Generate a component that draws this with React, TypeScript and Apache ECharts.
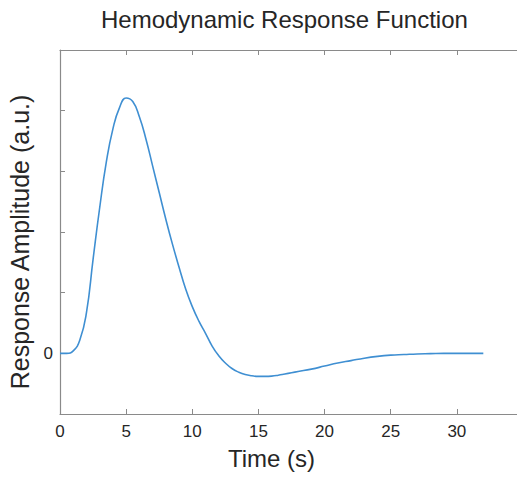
import React, { useEffect, useRef } from "react";
import * as echarts from "echarts";

const titleText = "Hemodynamic Response Function";
const xName = "Time (s)";
const yName = "Response Amplitude (a.u.)";

const times = [
  0, 0.5, 1, 1.5, 2, 2.5, 3, 3.5, 4, 4.5, 5, 5.5, 6, 6.5, 7, 7.5, 8, 8.5, 9, 9.5,
  10, 10.5, 11, 11.5, 12, 12.5, 13, 13.5, 14, 14.5, 15, 15.5, 16, 16.5, 17, 17.5,
  18, 19, 20, 21, 22, 23, 24, 25, 26, 27, 28, 29, 30, 31, 32,
];
const values = [
  0, 0, 0.04, 0.22, 0.67, 1.55, 2.4, 3.15, 3.7, 4.05, 4.21, 4.15, 3.9, 3.53, 3.09, 2.65,
  2.21, 1.8, 1.42, 1.06, 0.77, 0.53, 0.33, 0.12, -0.04, -0.16, -0.25, -0.31, -0.35,
  -0.37, -0.38, -0.38, -0.375, -0.36, -0.34, -0.32, -0.3, -0.26, -0.21, -0.16, -0.12,
  -0.08, -0.05, -0.03, -0.02, -0.01, -0.005, 0, 0, 0, 0,
];

const xTicks = [0, 5, 10, 15, 20, 25, 30];

export default function App() {
  const ref = useRef<HTMLDivElement>(null);
  useEffect(() => {
    if (!ref.current) return;
    const chart = echarts.init(ref.current, undefined, { renderer: "svg" });
    const axisColor = "#8a8a8a";
    const textColor = "#262626";
    const font = "'Liberation Sans', Arial, Helvetica, sans-serif";
    chart.setOption({
      animation: false,
      backgroundColor: "#ffffff",
      textStyle: { fontFamily: font },
      title: {
        text: titleText,
        left: 96,
        top: 2,
        textStyle: { fontFamily: font, fontSize: 24, fontWeight: "normal", color: textColor },
      },
      grid: {
        left: 60,
        top: 50,
        bottom: 63,
        right: -6,
        containLabel: false,
        outerBoundsMode: "none",
      },
      xAxis: [
        {
          type: "value",
          min: 0,
          max: 35,
          interval: 5,
          position: "bottom",
          name: xName,
          nameLocation: "middle",
          nameGap: 32,
          nameMoveOverlap: false,
          nameTextStyle: {
            fontFamily: font,
            fontSize: 24,
            color: textColor,
            padding: [0, 40, 0, 0],
          },
          axisLine: { show: true, onZero: false, lineStyle: { color: axisColor, width: 1.2 } },
          axisTick: { show: true, inside: true, length: 5, lineStyle: { color: axisColor } },
          axisLabel: {
            show: true,
            margin: 9,
            fontSize: 17,
            color: textColor,
            fontFamily: font,
            formatter: (v: number) => (xTicks.includes(v) ? String(v) : ""),
          },
          splitLine: { show: false },
        },
        {
          type: "value",
          min: 0,
          max: 35,
          interval: 5,
          position: "top",
          axisLine: { show: true, onZero: false, lineStyle: { color: axisColor, width: 1.2 } },
          axisTick: { show: true, inside: true, length: 5, lineStyle: { color: axisColor } },
          axisLabel: { show: false },
          splitLine: { show: false },
        },
      ],
      yAxis: {
        type: "value",
        min: -1,
        max: 5,
        interval: 1,
        name: yName,
        nameLocation: "middle",
        nameGap: 28,
        nameMoveOverlap: false,
        nameTextStyle: { fontFamily: font, fontSize: 25, color: textColor, padding: [0, 20, 0, 0] },
        axisLine: { show: true, onZero: false, lineStyle: { color: axisColor, width: 1.2 } },
        axisTick: { show: true, inside: true, length: 5, lineStyle: { color: axisColor } },
        axisLabel: {
          show: true,
          margin: 7,
          fontSize: 17,
          color: textColor,
          fontFamily: font,
          formatter: (v: number) => (v === 0 ? "0" : ""),
        },
        splitLine: { show: false },
      },
      series: [
        {
          type: "line",
          data: times.map((t, i) => [t, values[i]]),
          smooth: 0.5,
          showSymbol: false,
          lineStyle: { color: "#3F8FD2", width: 1.6 },
          clip: true,
        },
      ],
    });
    return () => chart.dispose();
  }, []);
  return (
    <div
      ref={ref}
      style={{ position: "absolute", left: 0, top: 0, width: 517, height: 477 }}
    />
  );
}
